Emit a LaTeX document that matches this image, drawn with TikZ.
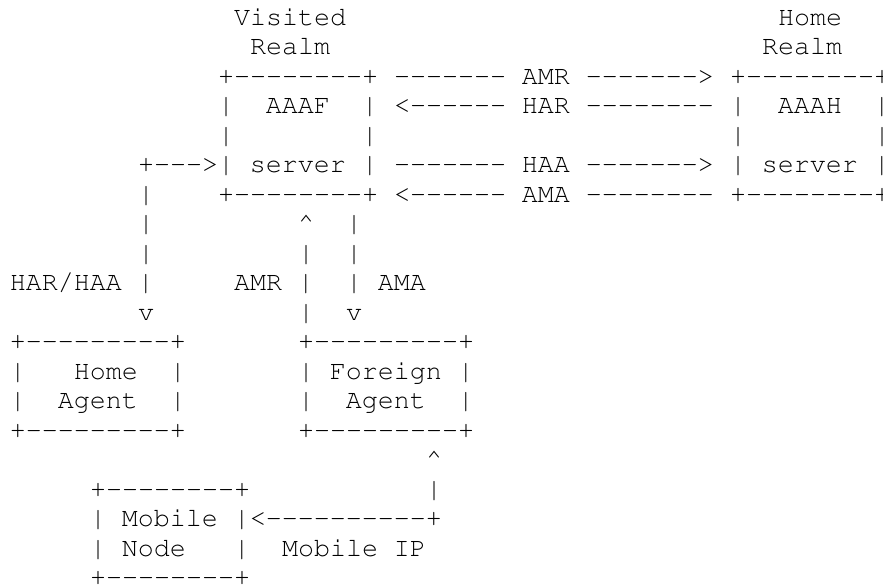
\documentclass[tikz,border=0pt]{standalone}
\usepackage[T1]{fontenc}
\usepackage{courier}
\newcommand{\up}{\textasciicircum}
% keep runs of hyphens apart (no -- ligature)
\ExplSyntaxOn
\NewDocumentCommand{\asc}{m}
  {
    \tl_set:Nn \l_tmpa_tl {#1}
    \tl_replace_all:Nnn \l_tmpa_tl {-} {-\kern0pt\relax}
    \tl_use:N \l_tmpa_tl
  }
\ExplSyntaxOff

\begin{document}
\begin{tikzpicture}[x=12pt,y=-22.125pt,ascii/.style={anchor=base west,inner sep=0pt,outer sep=0pt,font=\ttfamily\fontsize{20}{22}\selectfont}]
      \useasboundingbox (-7.5pt,18.75pt) rectangle (654.75pt,-420.75pt);

      \draw (14,0) node[ascii](visited) {Visited};
      \draw (48,0) node[ascii](home) {Home};
      \draw (15,1) node[ascii](vrealm) {Realm};
      \draw (47,1) node[ascii](hrealm) {Realm};

      \draw (13,2) node[ascii](aaaf1) {\asc{+--------+}};
      \draw (13,3) node[ascii](aaaf2) {|~~AAAF~~|};
      \draw (13,4) node[ascii](aaaf3) {|~~~~~~~~|};
      \draw (8,5) node[ascii](aaaf4) {\asc{+--->|~server~|}};
      \draw (13,6) node[ascii](aaaf5) {\asc{+--------+}};

      \draw (45,2) node[ascii](aaah1) {\asc{+--------+}};
      \draw (45,3) node[ascii](aaah2) {|~~AAAH~~|};
      \draw (45,4) node[ascii](aaah3) {|~~~~~~~~|};
      \draw (45,5) node[ascii](aaah4) {|~server~|};
      \draw (45,6) node[ascii](aaah5) {\asc{+--------+}};

      \draw (24,2) node[ascii](amr) {\asc{-------~AMR~------->}};
      \draw (24,3) node[ascii](har) {\asc{<------~HAR~--------}};
      \draw (24,5) node[ascii](haa) {\asc{-------~HAA~------->}};
      \draw (24,6) node[ascii](ama) {\asc{<------~AMA~--------}};

      % down to the home agent
      \draw (8,6) node[ascii](hl1) {|};
      \draw (8,7) node[ascii](hl2) {|};
      \draw (8,8) node[ascii](hl3) {|};
      \draw (0,9) node[ascii](harhaa) {HAR/HAA~|};
      \draw (8,10) node[ascii](hl4) {v};

      % between AAAF and foreign agent
      \draw (18,7) node[ascii](fu1) {\up};
      \draw (18,8) node[ascii](fu2) {|};
      \draw (14,9) node[ascii](amrv) {AMR~|};
      \draw (18,10) node[ascii](fu3) {|};
      \draw (21,7) node[ascii](fd1) {|};
      \draw (21,8) node[ascii](fd2) {|};
      \draw (21,9) node[ascii](amav) {|~AMA};
      \draw (21,10) node[ascii](fd3) {v};

      \draw (0,11) node[ascii](ha1) {\asc{+---------+}};
      \draw (0,12) node[ascii](ha2) {|~~~Home~~|};
      \draw (0,13) node[ascii](ha3) {|~~Agent~~|};
      \draw (0,14) node[ascii](ha4) {\asc{+---------+}};

      \draw (18,11) node[ascii](fa1) {\asc{+---------+}};
      \draw (18,12) node[ascii](fa2) {|~Foreign~|};
      \draw (18,13) node[ascii](fa3) {|~~Agent~~|};
      \draw (18,14) node[ascii](fa4) {\asc{+---------+}};

      \draw (26,15) node[ascii](mip1) {\up};
      \draw (26,16) node[ascii](mip2) {|};

      \draw (5,16) node[ascii](mn1) {\asc{+--------+}};
      \draw (5,17) node[ascii](mn2) {\asc{|~Mobile~|<----------+}};
      \draw (5,18) node[ascii](mn3) {|~Node~~~|};
      \draw (17,18) node[ascii](mip) {Mobile~IP};
      \draw (5,19) node[ascii](mn4) {\asc{+--------+}};
    \end{tikzpicture}
\end{document}
